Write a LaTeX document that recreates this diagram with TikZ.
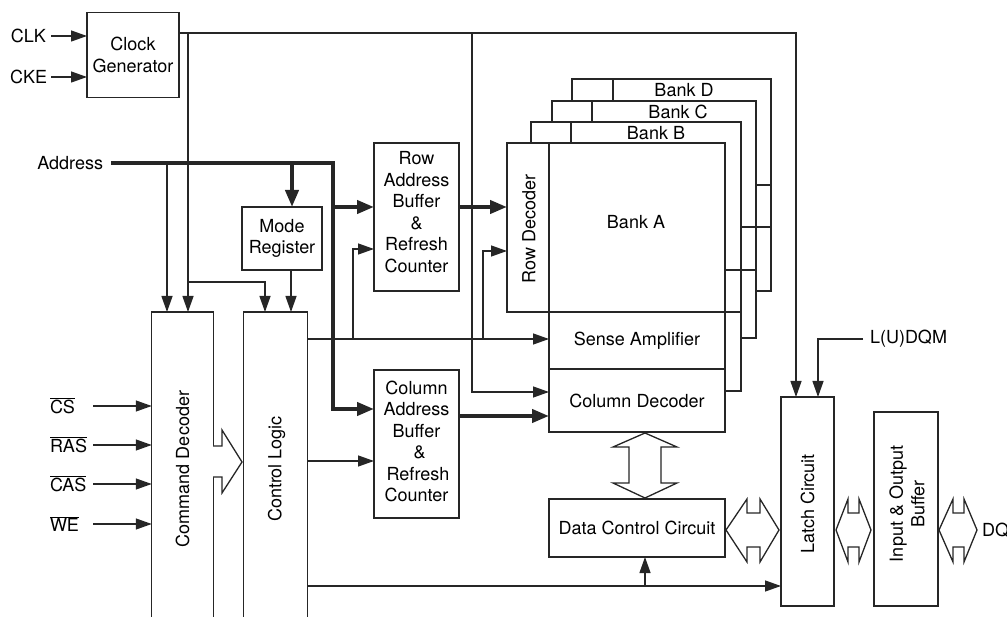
\documentclass[tikz,border=0pt]{standalone}
\usepackage{fontspec}
\setmainfont{TeX Gyre Heros}
\usetikzlibrary{arrows.meta}
\begin{document}
\begin{tikzpicture}[x=1pt,y=-1pt,
  font=\fontsize{18}{21.5}\selectfont,
  thin/.style={draw=black!85, line width=1.3pt},
  bus/.style={draw=black!85, line width=4pt},
  box/.style={draw=black!85, line width=1.3pt, inner sep=0pt, outer sep=0pt, align=center},
  lbl/.style={inner sep=0pt, outer sep=0pt, align=center},
  arr/.style={thin,-{Triangle[length=16pt,width=11pt]}},
  barr/.style={bus,-{Triangle[length=17pt,width=13pt]}},
  fat/.style={draw=black!85, line width=1.3pt, fill=white, line join=miter}
]
\useasboundingbox (0,0) rectangle (1007,617);
\clip (0,0) rectangle (1007,617);

% ---------- boxes ----------
\node[box, minimum width=92pt, minimum height=85pt] (clkgen) at (133,55) {Clock\\Generator};
\node[box, minimum width=80pt, minimum height=63pt] (mode) at (282,238.5) {Mode\\Register};
\node[box, minimum width=85pt, minimum height=148pt] (rowbuf) at (416.5,217) {};
\node[lbl] (rowbuflbl) at (416.5,212) {Row\\Address\\Buffer\\\&\\Refresh\\Counter};
\node[box, minimum width=85pt, minimum height=148pt] (colbuf) at (416.5,444) {};
\node[lbl] (colbuflbl) at (416.5,441.5) {Column\\Address\\Buffer\\\hspace*{6pt}\&\\\hspace*{3pt}Refresh\\Counter};
\node[box, minimum width=61.5pt, minimum height=314pt] (cmd) at (182.5,469) {};
\node[lbl, rotate=90] (cmdlbl) at (182.5,469) {Command Decoder};
\node[box, minimum width=63.5pt, minimum height=314pt] (ctrl) at (275.5,469) {};
\node[lbl, rotate=90] (ctrllbl) at (276.5,469) {Control Logic};

% ---------- banks (back) ----------
\draw[thin] (531,143) -- (531,122) -- (741,122) -- (741,391) -- (725,391);
\draw[thin] (571,122) -- (571,143);
\draw[thin] (552,122) -- (552,101) -- (756,101) -- (756,338) -- (741,338);
\draw[thin] (592,101) -- (592,122);
\draw[thin] (572,101) -- (572,79) -- (771,79) -- (771,291) -- (756,291);
\draw[thin] (613,79) -- (613,101);
\draw[thin] (756,185) -- (771,185);
\draw[thin] (741,227) -- (771,227);
\draw[thin] (725,270) -- (756,270);
\draw[thin] (725,312) -- (741,312);
\node[lbl] (bankB) at (656,133) {Bank B};
\node[lbl] (bankC) at (678,112) {Bank C};
\node[lbl] (bankD) at (684,90.5) {Bank D};

% ---------- bank A ----------
\node[box, minimum width=42pt, minimum height=169pt] (rowdec) at (528,227.5) {};
\node[lbl, rotate=90] (rowdeclbl) at (529,229) {Row Decoder};
\node[box, minimum width=176pt, minimum height=169pt] (bankA) at (637,227.5) {};
\node[lbl] (bankAlbl) at (636,222) {Bank A};
\node[box, minimum width=176pt, minimum height=57pt] (sense) at (637,340.5) {Sense Amplifier};
\node[box, minimum width=176pt, minimum height=63pt] (coldec) at (637,400.5) {Column Decoder};
\node[box, minimum width=176pt, minimum height=58pt] (dcc) at (637,528) {Data Control Circuit};
\node[box, minimum width=53pt, minimum height=209pt] (latch) at (807.5,501.5) {};
\node[lbl, rotate=90] (latchlbl) at (807.5,504) {Latch Circuit};
\node[box, minimum width=64pt, minimum height=194pt] (iobuf) at (906,509) {};
\node[lbl, rotate=90] (iobuflbl) at (907,504) {Input \& Output\\Buffer};

% ---------- labels ----------
\node[lbl, anchor=east] (clk) at (46,36) {CLK};
\node[lbl, anchor=east] (cke) at (47,77) {CKE};
\node[lbl, anchor=east] (addr) at (103,163) {Address};
\node[lbl, anchor=base west] (cs) at (50,413.5) {\(\overline{\mbox{CS}}\)};
\node[lbl, anchor=base west] (ras) at (50,452.5) {\(\overline{\mbox{RAS}}\)};
\node[lbl, anchor=base west] (cas) at (50,491.5) {\(\overline{\mbox{CAS}}\)};
\node[lbl, anchor=base west] (we) at (50,531.5) {\(\overline{\mbox{WE}}\)};
\node[lbl, anchor=west] (ldqm) at (870,339) {L(U)DQM};
\node[lbl, anchor=west] (dq) at (982,530) {DQ};

% ---------- clock lines ----------
\draw[arr] ([xshift=5pt]clk.east) -- (clkgen.west|-clk.east);
\draw[arr] ([xshift=4pt]cke.east) -- (clkgen.west|-cke.east);
\coordinate (ckY) at (0,33);
\coordinate (ckR) at (796,33);
\draw[arr] (clkgen.east|-ckY) -- (ckR) -- (latch.north-|ckR);
\coordinate (ckA) at (188,33);
\draw[arr] (ckA) -- (cmd.north-|ckA);
\coordinate (ckB) at (188,282);
\coordinate (ckC) at (265,282);
\draw[arr] (ckB) -- (ckC) -- (ctrl.north-|ckC);
\coordinate (ckD) at (472,33);
\coordinate (ckE) at (472,392);
\draw[arr] (ckD) -- (ckE) -- (coldec.west|-ckE);

% ---------- address bus ----------
\coordinate (a0) at (111,163);
\coordinate (a1) at (333,163);
\coordinate (a2) at (333,409);
\draw[barr] (a0) -- (a1) -- (a2) -- (colbuf.west|-a2);
\coordinate (a3) at (333,207);
\draw[barr] (a3) -- (rowbuf.west|-a3);
\coordinate (a4) at (292,163);
\draw[barr] (a4) -- (mode.north-|a4);
\coordinate (a5) at (167,163);
\draw[arr] (a5) -- (cmd.north-|a5);
\draw[barr] (rowbuf.east|-a3) -- (rowdec.west|-a3);
\coordinate (a6) at (0,416);
\draw[barr] (colbuf.east|-a6) -- (coldec.west|-a6);

% ---------- control lines ----------
\coordinate (m1) at (291,0);
\draw[arr] (mode.south-|m1) -- (ctrl.north-|m1);
\coordinate (c1) at (0,339);
\draw[arr] (ctrl.east|-c1) -- (sense.west|-c1);
\coordinate (c2) at (353,339);
\coordinate (c3) at (353,249);
\draw[arr] (c2) -- (c3) -- (rowbuf.west|-c3);
\coordinate (c4) at (483,339);
\coordinate (c5) at (483,251);
\draw[arr] (c4) -- (c5) -- (rowdec.west|-c5);
\coordinate (c6) at (0,461);
\draw[arr] (ctrl.east|-c6) -- (colbuf.west|-c6);
\coordinate (c7) at (0,586);
\draw[arr] (ctrl.east|-c7) -- (latch.west|-c7);
\coordinate (c8) at (645,586);
\draw[arr] (c8) -- (dcc.south-|c8);
\coordinate (l1) at (818,339);
\draw[arr] ([xshift=-7pt]ldqm.west) -- (l1) -- (latch.north-|l1);

% ---------- command inputs ----------
\foreach \n/\y in {cs/406, ras/445, cas/484, we/524}{
  \coordinate (in\n) at (93,\y);
  \draw[arr] (in\n) -- (cmd.west|-in\n);
}

% ---------- fat arrows ----------
\draw[fat] (213,446) -- (222,446) -- (222,430) -- (242,462) -- (222,493) -- (222,477) -- (213,477);
\draw[fat] (645,433) -- (677,447) -- (661,447) -- (661,483) -- (677,483) -- (645,498)
  -- (613,483) -- (629,483) -- (629,447) -- (613,447) -- cycle;
\draw[fat] (726,530) -- (747,499) -- (747,513) -- (760,513) -- (760,499) -- (779,530)
  -- (760,562) -- (760,547) -- (747,547) -- (747,562) -- cycle;
\draw[fat] (836,530) -- (848,499) -- (848,513) -- (859,513) -- (859,499) -- (871,530)
  -- (859,562) -- (859,547) -- (848,547) -- (848,562) -- cycle;
\draw[fat] (939,530) -- (953,499) -- (953,513) -- (964,513) -- (964,499) -- (977,530)
  -- (964,562) -- (964,547) -- (953,547) -- (953,562) -- cycle;
\end{tikzpicture}
\end{document}
